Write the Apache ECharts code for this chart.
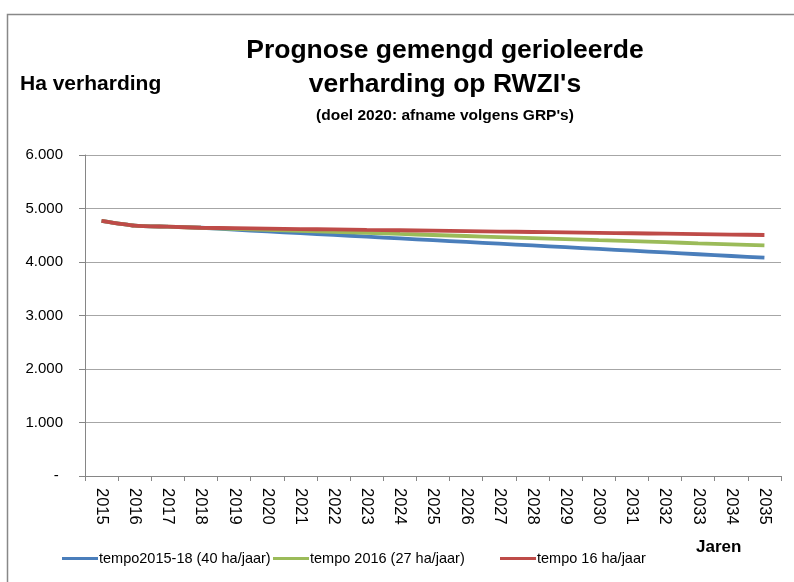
<!DOCTYPE html>
<html>
<head>
<meta charset="utf-8">
<title>Prognose gemengd gerioleerde verharding op RWZI's</title>
<script src="https://cdn.jsdelivr.net/npm/echarts@6/dist/echarts.min.js"></script>
<style>
  html, body { margin: 0; padding: 0; background: #fff; }
  #chart { width: 794px; height: 582px; }
</style>
</head>
<body>
<div id="chart"></div>
<script>
// jaren op de x-as
var years = ['2015','2016','2017','2018','2019','2020','2021','2022','2023','2024','2025',
             '2026','2027','2028','2029','2030','2031','2032','2033','2034','2035'];

var tempo40 = [4770,4680,4660,4640,4606,4572,4540,4507,4474,4441,4408,4375,4342,4310,4277,4244,4211,4178,4145,4112,4080];
var tempo27 = [4770,4680,4660,4640,4621,4602,4582,4563,4544,4524,4505,4486,4466,4447,4428,4408,4389,4370,4350,4331,4312];
var tempo16 = [4770,4680,4660,4640,4632,4624,4616,4608,4600,4593,4585,4577,4569,4561,4553,4545,4537,4529,4521,4513,4505];

var seriesNames = ['tempo2015-18 (40 ha/jaar)', 'tempo 2016 (27 ha/jaar)', 'tempo 16 ha/jaar'];
var fontFam = "'Liberation Sans', Arial, sans-serif";

function fmt(v) {
    if (v === 0) return '- ';
    return (v / 1000).toFixed(3);
}

function lijn(name, data, kleur) {
    return {
        name: name,
        type: 'line',
        data: data,
        symbol: 'none',
        smooth: 0.2,
        lineStyle: { width: 3.8, color: kleur },
        itemStyle: { color: kleur }
    };
}

// één legenda per reeks, zodat elk item op zijn eigen plek staat
function legenda(naam, links) {
    return {
        left: links,
        top: 546,
        itemWidth: 36,
        itemHeight: 3,
        icon: 'rect',
        textStyle: { fontSize: 14.5, color: '#000', padding: [0, 0, 0, -4] },
        data: [naam]
    };
}

var option = {
    animation: false,
    textStyle: { fontFamily: fontFam },
    title: {
        text: 'Prognose gemengd gerioleerde\nverharding op RWZI\'s',
        subtext: '(doel 2020: afname volgens GRP\'s)',
        left: 440,
        top: 29,
        textAlign: 'center',
        itemGap: 6,
        textStyle: { fontSize: 26.5, fontWeight: 'bold', color: '#000', lineHeight: 34, fontFamily: fontFam },
        subtextStyle: { fontSize: 15.5, fontWeight: 'bold', color: '#000', fontFamily: fontFam }
    },
    legend: [
        legenda(seriesNames[0], 57),
        legenda(seriesNames[1], 268),
        legenda(seriesNames[2], 495)
    ],
    grid: { left: 85, right: 13, top: 155, bottom: 106 },
    xAxis: {
        type: 'category',
        data: years,
        boundaryGap: true,
        axisLine: { lineStyle: { color: '#868686', width: 1 } },
        axisTick: { show: true, length: 5, lineStyle: { color: '#868686' } },
        axisLabel: { rotate: -90, fontSize: 16.5, color: '#000', margin: 12, interval: 0 }
    },
    yAxis: {
        type: 'value',
        min: 0,
        max: 6000,
        interval: 1000,
        axisLine: { show: true, lineStyle: { color: '#868686', width: 1 } },
        axisTick: { show: true, length: 6, lineStyle: { color: '#868686' } },
        splitLine: { lineStyle: { color: '#a6a6a6', width: 1 } },
        axisLabel: { fontSize: 15, color: '#000', margin: 22, formatter: fmt }
    },
    graphic: [
        {
            type: 'rect',
            shape: { x: 7.5, y: 14.5, width: 800, height: 600 },
            style: { fill: 'none', stroke: '#888', lineWidth: 1.5 },
            silent: true
        },
        {
            type: 'text',
            left: 20,
            top: 74,
            style: { text: 'Ha verharding', font: 'bold 21px ' + fontFam, fill: '#000' }
        },
        {
            type: 'text',
            left: 696,
            top: 539,
            style: { text: 'Jaren', font: 'bold 17px ' + fontFam, fill: '#000' }
        }
    ],
    series: [
        lijn(seriesNames[0], tempo40, '#4a7ebb'),
        lijn(seriesNames[1], tempo27, '#9bbb59'),
        lijn(seriesNames[2], tempo16, '#be4b48')
    ]
};

var myChart = echarts.init(document.getElementById('chart'));
myChart.setOption(option);
</script>
</body>
</html>
